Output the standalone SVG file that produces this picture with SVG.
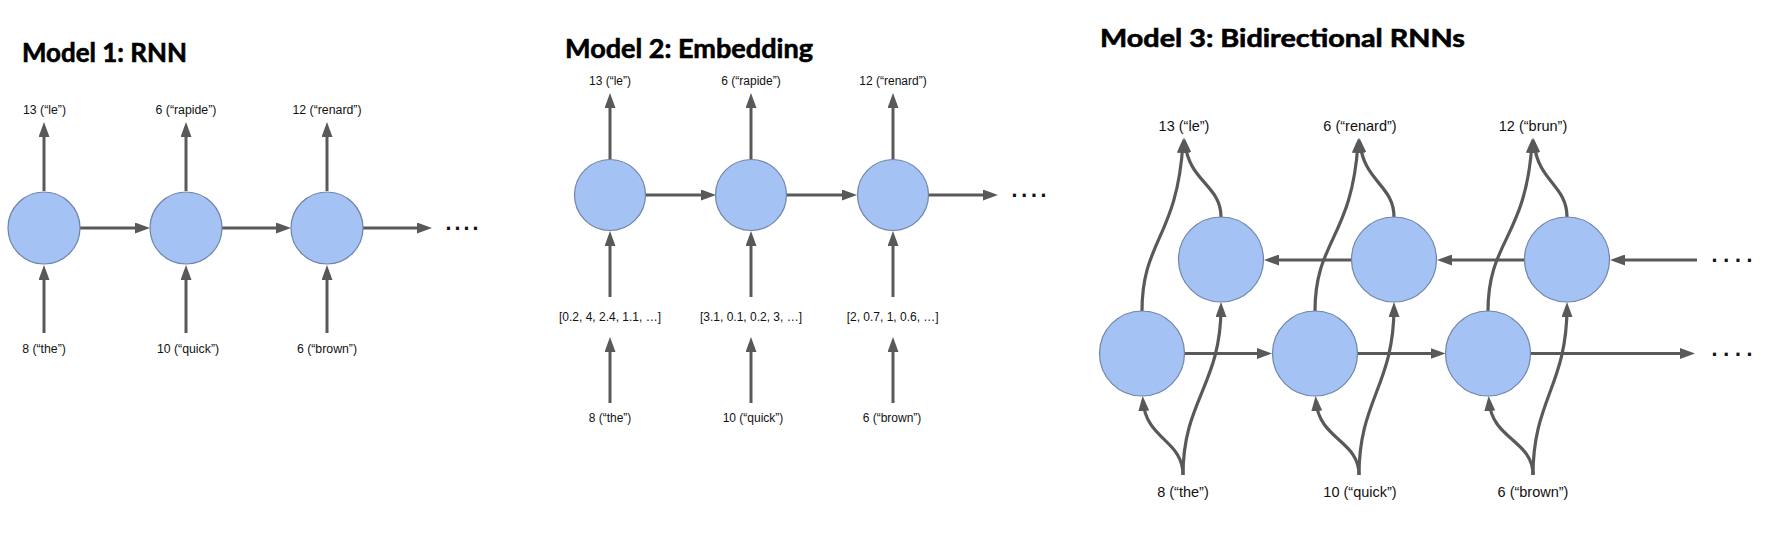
<svg xmlns="http://www.w3.org/2000/svg" width="1774" height="535" viewBox="0 0 1774 535">
<style>
.bg{fill:#ffffff}
.title{font-family:Lato,"Open Sans","Liberation Sans",sans-serif;font-weight:bold;fill:#000;stroke:#000;stroke-width:0.6}
.lb{font-family:"Liberation Sans",Arial,sans-serif;fill:#111;text-anchor:middle}
.s1{font-size:12.3px}
.s2{font-size:12px}
.s3{font-size:14.5px}
.dots{font-family:"Liberation Sans",Arial,sans-serif;font-size:32px;fill:#111}
.node{fill:#a4c2f4;stroke:#6f84a8;stroke-width:1.2}
.edge{fill:none;stroke:#595959;stroke-width:3;marker-end:url(#ah)}
.edge3{fill:none;stroke:#595959;stroke-width:3.2;marker-end:url(#ah)}
</style>
<defs>
<marker id="ah" markerUnits="userSpaceOnUse" markerWidth="15" markerHeight="11" viewBox="0 0 15 11" refX="10" refY="5.5" orient="auto">
<path d="M0,0 L15,5.5 L0,11 z" fill="#595959"/>
</marker>
</defs>
<rect class="bg" x="0" y="0" width="1774" height="535"/>

<!-- Titles -->
<g id="titles">
<text class="title" x="22" y="62" font-size="26.5" textLength="165" lengthAdjust="spacingAndGlyphs">Model 1: RNN</text>
<text class="title" x="565" y="58" font-size="26.5" textLength="248" lengthAdjust="spacingAndGlyphs">Model 2: Embedding</text>
<text class="title" x="1100" y="46.7" font-size="24.2" textLength="365" lengthAdjust="spacingAndGlyphs">Model 3: Bidirectional RNNs</text>
</g>

<!-- Connectors -->
<g id="connectors">
<!-- Model 1 -->
<path class="edge" d="M44,191 V127"/>
<path class="edge" d="M186,191 V127"/>
<path class="edge" d="M327,191 V127"/>
<path class="edge" d="M44,333 V270"/>
<path class="edge" d="M186,333 V270"/>
<path class="edge" d="M327,333 V270"/>
<path class="edge" d="M80,228 H145"/>
<path class="edge" d="M222,228 H286"/>
<path class="edge" d="M363,228 H427"/>
<!-- Model 2 -->
<path class="edge" d="M610,159.5 V98"/>
<path class="edge" d="M751,159.5 V98"/>
<path class="edge" d="M893,159.5 V98"/>
<path class="edge" d="M610,297 V236"/>
<path class="edge" d="M751,297 V236"/>
<path class="edge" d="M893,297 V236"/>
<path class="edge" d="M610,403 V342"/>
<path class="edge" d="M751,403 V342"/>
<path class="edge" d="M893,403 V342"/>
<path class="edge" d="M645.5,195 H711"/>
<path class="edge" d="M786.5,195 H852"/>
<path class="edge" d="M928.5,195 H993"/>
<!-- Model 3 backward -->
<path class="edge3" d="M1351.5,260 H1269"/>
<path class="edge3" d="M1524.5,260 H1442"/>
<path class="edge3" d="M1697,260 H1615"/>
<!-- Model 3 forward -->
<path class="edge3" d="M1184.5,353.5 H1267"/>
<path class="edge3" d="M1357.5,353.5 H1440.5"/>
<path class="edge3" d="M1530.5,353.5 H1690"/>
<!-- Model 3 outputs -->
<path class="edge3" d="M1142,311 C1142,240 1177,238 1183,143"/>
<path class="edge3" d="M1221,217 C1221,185 1189,182 1185,143"/>
<path class="edge3" d="M1315,311 C1315,240 1352,238 1358,143"/>
<path class="edge3" d="M1394,217 C1394,185 1364,182 1360,143"/>
<path class="edge3" d="M1488,311 C1488,240 1526,238 1532,143"/>
<path class="edge3" d="M1567,217 C1567,185 1538,182 1534,143"/>
<!-- Model 3 inputs -->
<path class="edge3" d="M1183,475 C1183,440 1146,440 1143,401"/>
<path class="edge3" d="M1183,475 C1183,400 1221,385 1221,307"/>
<path class="edge3" d="M1359,475 C1359,440 1319,440 1316,401"/>
<path class="edge3" d="M1359,475 C1359,400 1394,385 1394,307"/>
<path class="edge3" d="M1533,475 C1533,440 1492,440 1489,401"/>
<path class="edge3" d="M1533,475 C1533,400 1567,385 1567,307"/>
</g>

<!-- Model 1 nodes -->
<g id="m1-rnn1"><circle class="node" cx="44" cy="228" r="36"/></g>
<g id="m1-rnn2"><circle class="node" cx="186" cy="228" r="36"/></g>
<g id="m1-rnn3"><circle class="node" cx="327" cy="228" r="36"/></g>
<g id="m1-out1"><text class="lb s1" x="44.5" y="114">13 (“le”)</text></g>
<g id="m1-out2"><text class="lb s1" x="186" y="114">6 (“rapide”)</text></g>
<g id="m1-out3"><text class="lb s1" x="327" y="114">12 (“renard”)</text></g>
<g id="m1-in1"><text class="lb s1" x="44" y="353">8 (“the”)</text></g>
<g id="m1-in2"><text class="lb s1" x="188" y="353">10 (“quick”)</text></g>
<g id="m1-in3"><text class="lb s1" x="327" y="353">6 (“brown”)</text></g>
<g id="m1-more"><text class="dots" x="444" y="229.5" letter-spacing="0.1">....</text></g>

<!-- Model 2 nodes -->
<g id="m2-rnn1"><circle class="node" cx="610" cy="195" r="35.5"/></g>
<g id="m2-rnn2"><circle class="node" cx="751" cy="195" r="35.5"/></g>
<g id="m2-rnn3"><circle class="node" cx="893" cy="195" r="35.5"/></g>
<g id="m2-out1"><text class="lb s2" x="610" y="85">13 (“le”)</text></g>
<g id="m2-out2"><text class="lb s2" x="751" y="85">6 (“rapide”)</text></g>
<g id="m2-out3"><text class="lb s2" x="893" y="85">12 (“renard”)</text></g>
<g id="m2-emb1"><text class="lb s2" x="610" y="320.7">[0.2, 4, 2.4, 1.1, …]</text></g>
<g id="m2-emb2"><text class="lb s2" x="751" y="320.7">[3.1, 0.1, 0.2, 3, …]</text></g>
<g id="m2-emb3"><text class="lb s2" x="892.7" y="320.7">[2, 0.7, 1, 0.6, …]</text></g>
<g id="m2-in1"><text class="lb s2" x="610" y="421.7">8 (“the”)</text></g>
<g id="m2-in2"><text class="lb s2" x="753" y="421.7">10 (“quick”)</text></g>
<g id="m2-in3"><text class="lb s2" x="892" y="421.7">6 (“brown”)</text></g>
<g id="m2-more"><text class="dots" x="1010" y="196.5" letter-spacing="0.8">....</text></g>

<!-- Model 3 nodes -->
<g id="m3-bwd1"><circle class="node" cx="1221" cy="259.5" r="42.5"/></g>
<g id="m3-bwd2"><circle class="node" cx="1394" cy="259.5" r="42.5"/></g>
<g id="m3-bwd3"><circle class="node" cx="1567" cy="259.5" r="42.5"/></g>
<g id="m3-fwd1"><circle class="node" cx="1142" cy="353.5" r="42.5"/></g>
<g id="m3-fwd2"><circle class="node" cx="1315" cy="353.5" r="42.5"/></g>
<g id="m3-fwd3"><circle class="node" cx="1488" cy="353.5" r="42.5"/></g>
<g id="m3-out1"><text class="lb s3" x="1184" y="130.7">13 (“le”)</text></g>
<g id="m3-out2"><text class="lb s3" x="1360" y="130.7">6 (“renard”)</text></g>
<g id="m3-out3"><text class="lb s3" x="1533" y="130.7">12 (“brun”)</text></g>
<g id="m3-in1"><text class="lb s3" x="1183" y="497">8 (“the”)</text></g>
<g id="m3-in2"><text class="lb s3" x="1360" y="497">10 (“quick”)</text></g>
<g id="m3-in3"><text class="lb s3" x="1533" y="497">6 (“brown”)</text></g>
<g id="m3-more1"><text class="dots" x="1710" y="261.5" letter-spacing="2.8">....</text></g>
<g id="m3-more2"><text class="dots" x="1710" y="355.5" letter-spacing="2.8">....</text></g>
</svg>
